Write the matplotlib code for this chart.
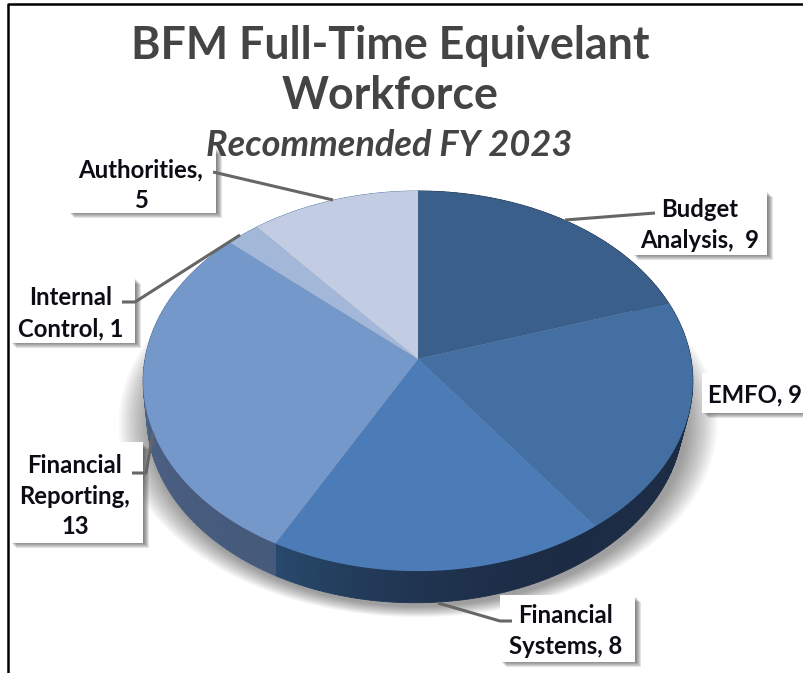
import matplotlib
matplotlib.use("Agg")
import matplotlib.pyplot as plt
import numpy as np
from matplotlib.collections import PolyCollection
from matplotlib.colors import to_rgb
from matplotlib.patches import Rectangle

# Data, clockwise from 12 o'clock
categories = ["Budget\nAnalysis,  ", "EMFO, ", "Financial\nSystems, ",
              "Financial\nReporting,\n", "Internal\nControl, ", "Authorities,\n"]
values = [9, 9, 8, 13, 1, 5]

title_lines = "BFM Full-Time Equivelant\nWorkforce"
subtitle = "Recommended FY 2023"

# Colours
top_colors = ["#3a5f8b", "#436fa3", "#4c7cb8", "#7598ca", "#a3b8d8", "#c2cde4"]
wall_from = ["#1c2c45", "#1c2c45", "#1c2b44", "#465a7c", "#5f7da8", "#5f7da8"]
wall_to = ["#1c2c45", "#1c2c45", "#284a6e", "#5f7da8", "#5f7da8", "#5f7da8"]

# Layout in image pixels: box x0, y0, x1, y1, then text centre
boxes = [
    (632, 190, 767, 255, 700, 225),
    (702, 373, 806, 413, 755, 395),
    (500, 595, 635, 662, 566, 631),
    (10, 442, 143, 543, 75, 496),
    (10, 277, 135, 343, 71, 313),
    (68, 147, 216, 213, 141, 185),
]
leaders = [
    [(655, 213), (565, 220)],
    [],
    [(512, 621), (500, 621), (438, 603)],
    [(132, 473), (146, 473), (153, 433)],
    [(122, 302), (135, 302), (240, 235)],
    [(213, 172), (333, 200)],
]

plt.rcParams['font.family'] = ['Lato', 'DejaVu Sans']

fig = plt.figure(figsize=(8.04, 6.73), dpi=100)
ax = fig.add_axes([0, 0, 1, 1])
ax.set_xlim(0, 804)
ax.set_ylim(673, 0)
ax.axis("off")

CX, CY = 418, 359
A, B, K = 273, 187.5, 0.1158


def rim(theta, sx=1.0, sy=1.0, dy=0.0, dx=0.0):
    # perspective view of the unit circle, theta clockwise from the top
    x, y = np.sin(theta), np.cos(theta)
    d = 1 + K * y
    return np.column_stack((CX + dx + sx * A * x / d, CY + dy - sy * B * y / d))


edges = np.radians(np.concatenate(([0], np.cumsum(values))) / sum(values) * 360)
full = np.linspace(0, 2 * np.pi, 361)

# soft shadow under the pie
for t in np.linspace(0, 1, 18):
    pts = rim(full, sx=0.98 + 0.11 * t, sy=0.97 + 0.05 * t, dy=42)
    ax.fill(pts[:, 0], pts[:, 1], color="black", alpha=0.022, lw=0, zorder=1)

# side wall
WALL_S, WALL_DY, WALL_DX = 0.975, 37, -3
strips, strip_cols = [], []
for i in range(len(values)):
    th = np.linspace(edges[i], edges[i + 1], max(int(np.degrees(edges[i + 1] - edges[i])), 2))
    upper = rim(th)
    lower = rim(th, WALL_S, WALL_S, WALL_DY, WALL_DX)
    c0, c1 = np.array(to_rgb(wall_from[i])), np.array(to_rgb(wall_to[i]))
    for j in range(len(th) - 1):
        strips.append([upper[j], upper[j + 1], lower[j + 1], lower[j]])
        strip_cols.append(c0 + (c1 - c0) * (j / (len(th) - 1)) ** 2)
ax.add_collection(PolyCollection(strips, facecolors=strip_cols, edgecolors=strip_cols,
                                 linewidths=0.6, zorder=2))

# top faces
for i in range(len(values)):
    th = np.linspace(edges[i], edges[i + 1], 120)
    pts = np.vstack(([[CX, CY]], rim(th)))
    ax.fill(pts[:, 0], pts[:, 1], color=top_colors[i], lw=0, zorder=3)

# data labels
for i, cat in enumerate(categories):
    x0, y0, x1, y1, tx, ty = boxes[i]
    for s in np.linspace(1, 0, 6):
        ax.add_patch(Rectangle((x0 + 1 + 5 * s, y0 + 2 + 5 * s), x1 - x0, y1 - y0 - 2,
                               fc="#303030", ec="none", alpha=0.13, zorder=4))
    ax.add_patch(Rectangle((x0, y0), x1 - x0, y1 - y0, fc="white", ec="none", zorder=5))
    if leaders[i]:
        lx, ly = zip(*leaders[i])
        ax.plot(lx, ly, color="#666666", lw=2.2, solid_capstyle="butt", zorder=6)
    ax.text(tx, ty, f"{cat}{values[i]}", ha="center", va="center", multialignment="center",
            fontsize=17.2, fontweight="bold", color="#0c0c14", linespacing=1.42, zorder=7)

# titles
ax.text(390, 71, title_lines, ha="center", va="center", fontsize=32.2, fontweight="bold",
        color="#444444", linespacing=1.25, zorder=7)
ax.text(389, 145, subtitle, ha="center", va="center", fontsize=26, fontweight="bold",
        fontstyle="italic", color="#444444", zorder=7)

# chart frame, cut off at the right and bottom
ax.plot([8, 8, 804], [673, 4, 4], color="black", lw=1.8, zorder=8)

fig.savefig("out.png", dpi=100)
